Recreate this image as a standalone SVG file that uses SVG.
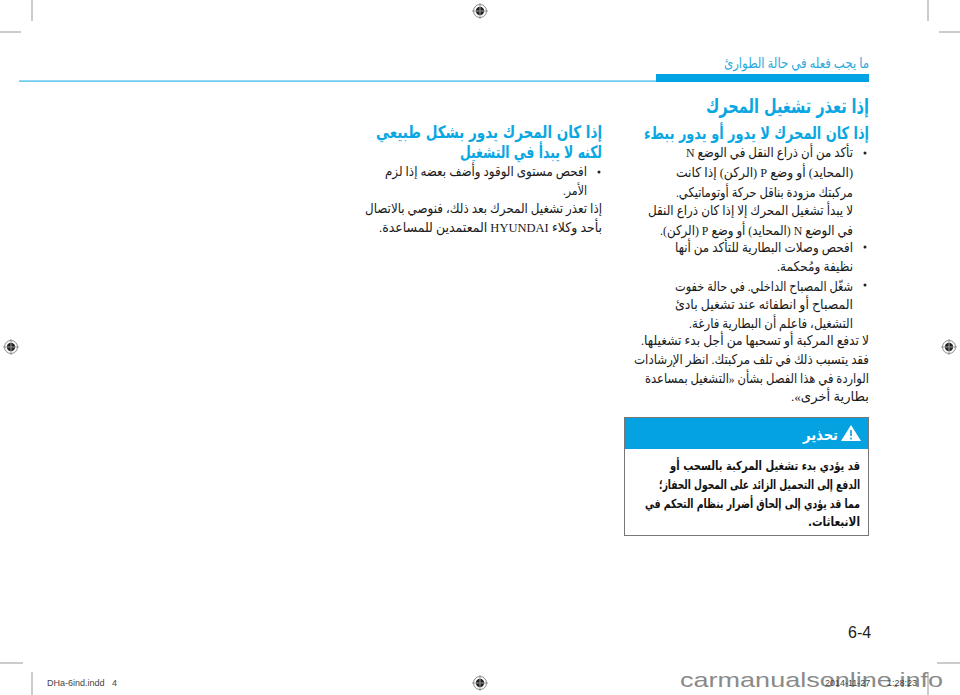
<svg xmlns="http://www.w3.org/2000/svg" width="960" height="695" viewBox="0 0 960 695">
<style>
text{font-family:"Liberation Serif","DejaVu Sans","Noto Sans",sans-serif}
.r{direction:rtl;text-anchor:start}
.b{font-size:13.5px;fill:#1a1a1a}
.h{font-family:"DejaVu Sans",sans-serif;font-weight:bold;fill:#0aa7e2}
.w{font-family:"DejaVu Sans",sans-serif;font-weight:bold;font-size:12.5px;fill:#111}
.l{font-family:"Liberation Sans",Arial,sans-serif;direction:ltr}
.c{stroke:#999;stroke-width:1;fill:none}
</style>
<defs>
<g id="reg"><circle r="6.5" fill="#fff" stroke="#888" stroke-width="1"/><circle r="4.2" fill="#222"/><path d="M-8 0H8M0-8V8" stroke="#999" stroke-width="1"/></g>
</defs>
<rect width="960" height="695" fill="#fff"/>
<g id="crop-marks">
<path class="c" d="M32 0V21M928 0V21M0 32H21M939 32H960M0 663H23M937 663H960M32 672V695M928 672V695"/>
<use href="#reg" x="480" y="11"/><use href="#reg" x="11" y="347"/><use href="#reg" x="949" y="347"/><use href="#reg" x="480" y="683"/>
</g>
<g id="header">
<text class="r" x="869" y="68" font-size="14" fill="#2aa9dc" textLength="145" lengthAdjust="spacingAndGlyphs">ما يجب فعله في حالة الطوارئ</text>
<rect x="656" y="74" width="213" height="8" fill="#00a3e4"/>
<rect x="19" y="80.5" width="637" height="1.2" fill="#2fb3ea"/>
</g>
<g id="right-column">
<text class="r h" x="869" y="113" font-size="20" textLength="163" lengthAdjust="spacingAndGlyphs">إذا تعذر تشغيل المحرك</text>
<text class="r h" x="869" y="139" font-size="17" textLength="225" lengthAdjust="spacingAndGlyphs">إذا كان المحرك لا يدور أو يدور ببطء</text>
<circle cx="865" cy="153" r="1.5" fill="#222"/>
<text class="r b" x="853" y="157" textLength="167" lengthAdjust="spacingAndGlyphs">تأكد من أن ذراع النقل في الوضع N</text>
<text class="r b" x="853" y="177" textLength="177" lengthAdjust="spacingAndGlyphs">(المحايد) أو وضع P (الركن) إذا كانت</text>
<text class="r b" x="853" y="197" textLength="177" lengthAdjust="spacingAndGlyphs">مركبتك مزودة بناقل حركة أوتوماتيكي.</text>
<text class="r b" x="853" y="215" textLength="205" lengthAdjust="spacingAndGlyphs">لا يبدأ تشغيل المحرك إلا إذا كان ذراع النقل</text>
<text class="r b" x="853" y="235" textLength="193" lengthAdjust="spacingAndGlyphs">في الوضع N (المحايد) أو وضع P (الركن).</text>
<circle cx="865" cy="247" r="1.5" fill="#222"/>
<text class="r b" x="853" y="252" textLength="178" lengthAdjust="spacingAndGlyphs">افحص وصلات البطارية للتأكد من أنها</text>
<text class="r b" x="853" y="271" textLength="76" lengthAdjust="spacingAndGlyphs">نظيفة ومُحكمة.</text>
<circle cx="865" cy="285" r="1.5" fill="#222"/>
<text class="r b" x="853" y="291" textLength="178" lengthAdjust="spacingAndGlyphs">شغّل المصباح الداخلي. في حالة خفوت</text>
<text class="r b" x="853" y="309" textLength="178" lengthAdjust="spacingAndGlyphs">المصباح أو انطفائه عند تشغيل بادئ</text>
<text class="r b" x="853" y="328" textLength="164" lengthAdjust="spacingAndGlyphs">التشغيل، فاعلم أن البطارية فارغة.</text>
<text class="r b" x="869" y="345" textLength="228" lengthAdjust="spacingAndGlyphs">لا تدفع المركبة أو تسحبها من أجل بدء تشغيلها.</text>
<text class="r b" x="869" y="364" textLength="235" lengthAdjust="spacingAndGlyphs">فقد يتسبب ذلك في تلف مركبتك. انظر الإرشادات</text>
<text class="r b" x="869" y="383" textLength="224" lengthAdjust="spacingAndGlyphs">الواردة في هذا الفصل بشأن «التشغيل بمساعدة</text>
<text class="r b" x="869" y="401" textLength="78" lengthAdjust="spacingAndGlyphs">بطارية أخرى».</text>
</g>
<g id="warning">
<rect x="624.5" y="417.5" width="244" height="118" fill="#fff" stroke="#777"/>
<rect x="625" y="418" width="243" height="31" fill="#05a2e2"/>
<path d="M851 425L861 441H841Z" fill="#fff"/><path d="M851 430V436M851 437.5V439.5" stroke="#05a2e2" stroke-width="1.6"/>
<text class="r" x="838" y="440" font-size="15" font-weight="bold" fill="#fff" style="font-family:'DejaVu Sans',sans-serif" textLength="35" lengthAdjust="spacingAndGlyphs">تحذير</text>
<text class="r w" x="860" y="470" textLength="190" lengthAdjust="spacingAndGlyphs">قد يؤدي بدء تشغيل المركبة بالسحب أو</text>
<text class="r w" x="860" y="489" textLength="201" lengthAdjust="spacingAndGlyphs">الدفع إلى التحميل الزائد على المحول الحفاز؛</text>
<text class="r w" x="860" y="508" textLength="215" lengthAdjust="spacingAndGlyphs">مما قد يؤدي إلى إلحاق أضرار بنظام التحكم في</text>
<text class="r w" x="860" y="526" textLength="52" lengthAdjust="spacingAndGlyphs">الانبعاثات.</text>
</g>
<g id="left-column">
<text class="r h" x="602" y="138" font-size="17" textLength="226" lengthAdjust="spacingAndGlyphs">إذا كان المحرك يدور بشكل طبيعي</text>
<text class="r h" x="602" y="158" font-size="17" textLength="142" lengthAdjust="spacingAndGlyphs">لكنه لا يبدأ في التشغيل</text>
<circle cx="599" cy="172" r="1.5" fill="#222"/>
<text class="r b" x="587" y="176" textLength="202" lengthAdjust="spacingAndGlyphs">افحص مستوى الوقود وأضف بعضه إذا لزم</text>
<text class="r b" x="587" y="195" textLength="24" lengthAdjust="spacingAndGlyphs">الأمر.</text>
<text class="r b" x="602" y="213" textLength="237" lengthAdjust="spacingAndGlyphs">إذا تعذر تشغيل المحرك بعد ذلك، فنوصي بالاتصال</text>
<text class="r b" x="602" y="232" textLength="223" lengthAdjust="spacingAndGlyphs">بأحد وكلاء HYUNDAI المعتمدين للمساعدة.</text>
</g>
<g id="footer">
<text class="l" x="848" y="638" font-size="16" fill="#222">6-4</text>
<text class="l" x="47" y="686" font-size="9" fill="#444">DHa-6ind.indd</text>
<text class="l" x="112" y="686" font-size="9" fill="#444">4</text>
<text class="l" x="680" y="687" font-size="21" fill="#8a8a8a" textLength="263" lengthAdjust="spacingAndGlyphs">carmanualsonline.info</text>
<text class="l" x="825" y="686" font-size="9" fill="#444">2014-11-27</text>
<text class="l" x="887" y="686" font-size="9" fill="#444">1:28:23</text>
</g>
</svg>
